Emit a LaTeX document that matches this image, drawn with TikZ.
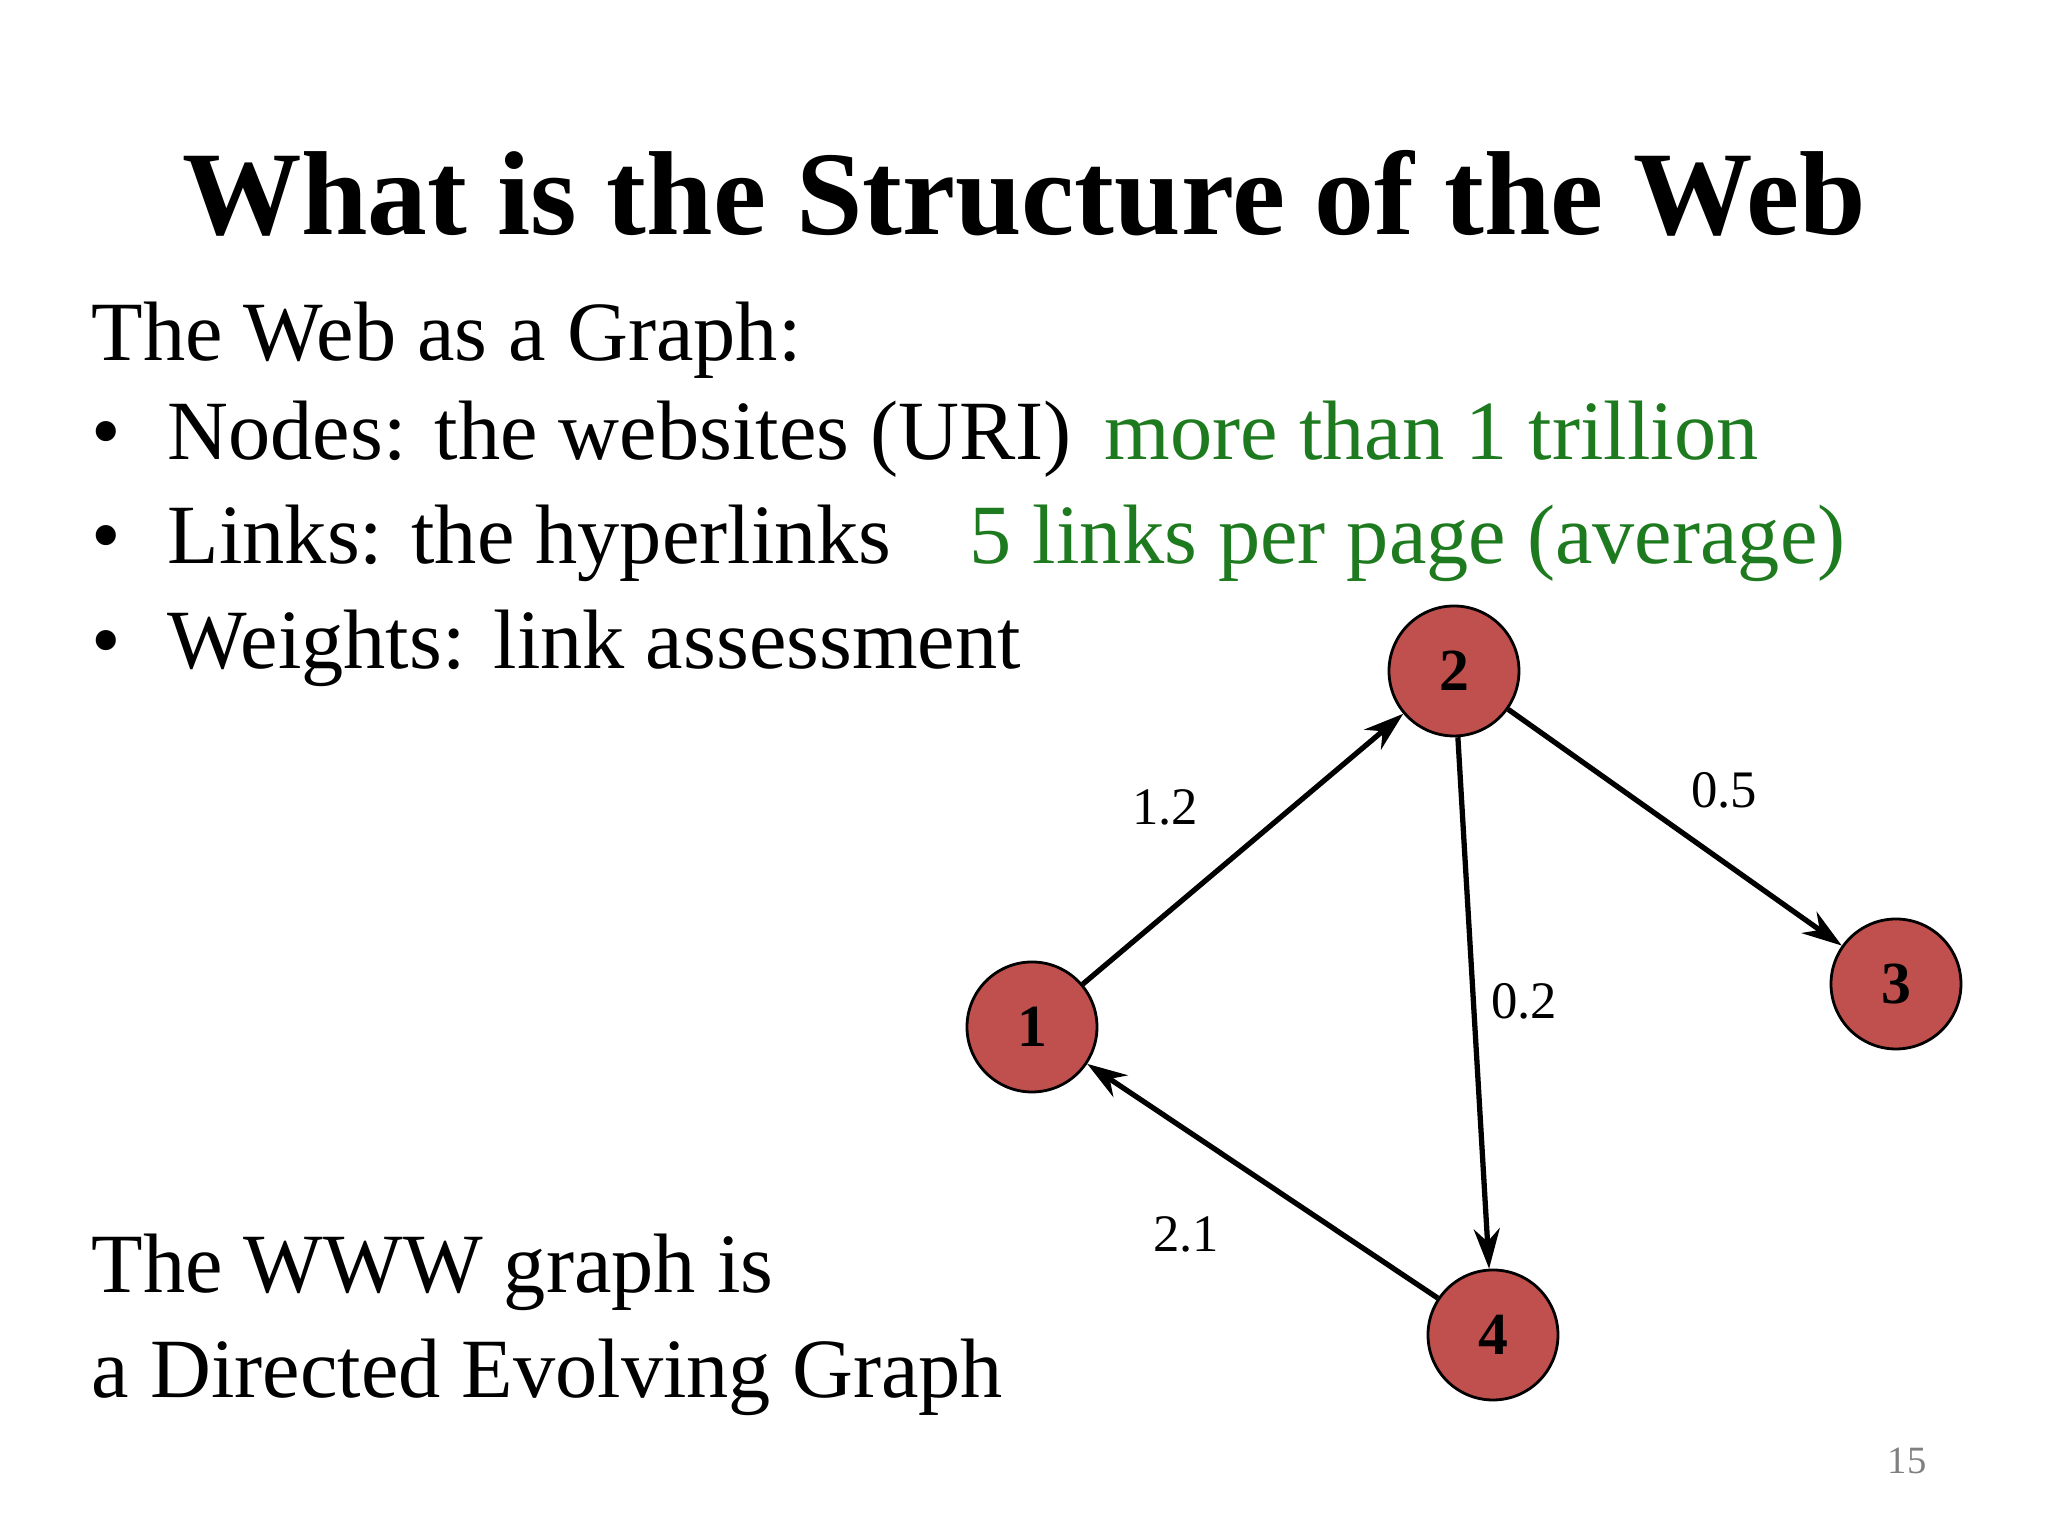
\documentclass[tikz,border=0pt]{standalone}
\usepackage{fontspec}
\setmainfont{Liberation Serif}
\newfontfamily\tms{Liberation Serif}
\usetikzlibrary{arrows.meta}
\definecolor{nodered}{HTML}{C0504D}
\definecolor{grn}{HTML}{1E7A1E}
\begin{document}
\begin{tikzpicture}
\useasboundingbox (0,0) rectangle (20.48,15.36);
\tikzset{
 gnode/.style={circle,draw=black,thick,fill=nodered,minimum size=1.3cm,inner sep=0pt,font=\tms\bfseries\fontsize{17}{17}\selectfont},
 txt/.style={anchor=base west,inner sep=0pt,font=\fontsize{24}{28}\selectfont},
 elab/.style={font=\tms\fontsize{15}{15}\selectfont},
 edge/.style={-{Stealth[length=4mm,width=2.6mm]},line width=1.5pt}
}
\node[anchor=base,inner sep=0pt,font=\bfseries\fontsize{34}{36}\selectfont] (title) at (10.24,13.01) {What is the Structure of the Web};
\node[txt] (t0) at (0.91,11.75) {The Web as a Graph:};
\node[txt] (b1) at (0.91,10.76) {\textbullet};
\node[txt] (l1) at (1.67,10.76) {Nodes: the websites (URI)};
\node[txt,text=grn] (g1) at (11.04,10.76) {more than 1 trillion};
\node[txt] (b2) at (0.91,9.72) {\textbullet};
\node[txt] (l2) at (1.67,9.72) {Links: the hyperlinks};
\node[txt,text=grn] (g2) at (9.69,9.72) {5 links per page (average)};
\node[txt] (b3) at (0.91,8.67) {\textbullet};
\node[txt] (l3) at (1.67,8.67) {Weights: link assessment};
\node[txt] (w1) at (0.91,2.43) {The WWW graph is};
\node[txt] (w2) at (0.91,1.38) {a Directed Evolving Graph};
\node[anchor=base,text=gray,font=\fontsize{11}{11}\selectfont] (pg) at (19.07,0.62) {15};

\node[gnode] (n1) at (10.32,5.09) {1};
\node[gnode] (n2) at (14.54,8.65) {2};
\node[gnode] (n3) at (18.96,5.52) {3};
\node[gnode] (n4) at (14.93,2.01) {4};
\draw[edge] (n1) -- (n2);
\draw[edge] (n2) -- (n3);
\draw[edge] (n2) -- (n4);
\draw[edge] (n4) -- (n1);
\node[elab] (e12) at (11.65,7.29) {1.2};
\node[elab] (e23) at (17.24,7.46) {0.5};
\node[elab] (e24) at (15.24,5.35) {0.2};
\node[elab] (e41) at (11.86,3.02) {2.1};
\end{tikzpicture}
\end{document}
